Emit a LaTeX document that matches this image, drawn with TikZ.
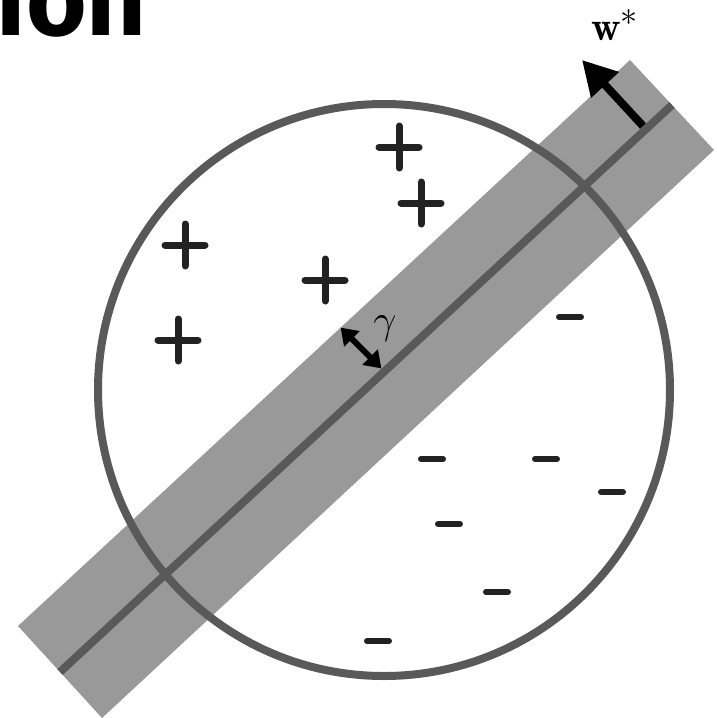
\documentclass[tikz,border=0pt]{standalone}
\usepackage{fontspec}
\usetikzlibrary{arrows.meta}
\newfontfamily\titlefont{Fira Sans}
\definecolor{bandgray}{HTML}{999999}
\definecolor{linegray}{HTML}{595959}
\definecolor{markgray}{HTML}{222222}
\tikzset{
  band/.style={fill=bandgray, draw=none},
  sepline/.style={draw=linegray, line width=8pt},
  ball/.style={draw=linegray, line width=8pt},
  plusmark/.style={draw=markgray, line width=7pt, line cap=round},
  minusmark/.style={draw=markgray, line width=6pt, line cap=round},
  warrow/.style={draw=black, line width=8pt, -{Triangle[length=34pt,width=36pt]}},
  garrow/.style={draw=black, line width=6pt, {Triangle[length=16pt,width=21pt]}-{Triangle[length=16pt,width=21pt]}, shorten <=-2pt, shorten >=-2pt},
  biglabel/.style={font=\Huge, scale=1.65, transform shape, inner sep=0pt}
}
\newcommand{\plusat}[2]{\draw[plusmark] (#1-20,#2) -- (#1+20,#2) (#1,#2-21) -- (#1,#2+21);}
\newcommand{\minusat}[2]{\draw[minusmark] (#1-11,#2) -- (#1+11,#2);}
\begin{document}
\begin{tikzpicture}[x=1pt,y=-1pt]
\useasboundingbox (0,0) rectangle (717,718);
\clip (0,0) rectangle (717,718);
% title fragment
\node[anchor=base east, inner sep=0pt, font=\titlefont\bfseries\fontsize{104}{104}\selectfont, xscale=1.0] (title) at (147,35) {tion};
% band (margin)
\coordinate (A) at (60,672);
\coordinate (B) at (672,105);
\fill[band] (18,626) -- (102,718) -- (714,150) -- (630,60) -- cycle;
% separator line
\draw[sepline] (A) -- (B);
% ball
\coordinate (C) at (384,390);
\draw[ball] (C) circle[radius=286];
% w* arrow
\coordinate (wtail) at (643,126);
\coordinate (wtip) at (582,60);
\draw[warrow] (wtail) -- (wtip);
\node[biglabel] (wlab) at (615,25) {$\mathbf{w}^*$};
% gamma arrow
\coordinate (g1) at (342,329);
\coordinate (g2) at (380,367);
\draw[garrow] (g1) -- (g2);
\node[biglabel] (glab) at (385,329) {$\gamma$};
% plus marks
\plusat{399}{147}
\plusat{421}{203}
\plusat{185}{245}
\plusat{325}{280}
\plusat{178}{340}
% minus marks
\minusat{570}{317}
\minusat{432}{459}
\minusat{546}{459}
\minusat{612}{492}
\minusat{449}{524}
\minusat{497}{592}
\minusat{378}{641}
\end{tikzpicture}
\end{document}
